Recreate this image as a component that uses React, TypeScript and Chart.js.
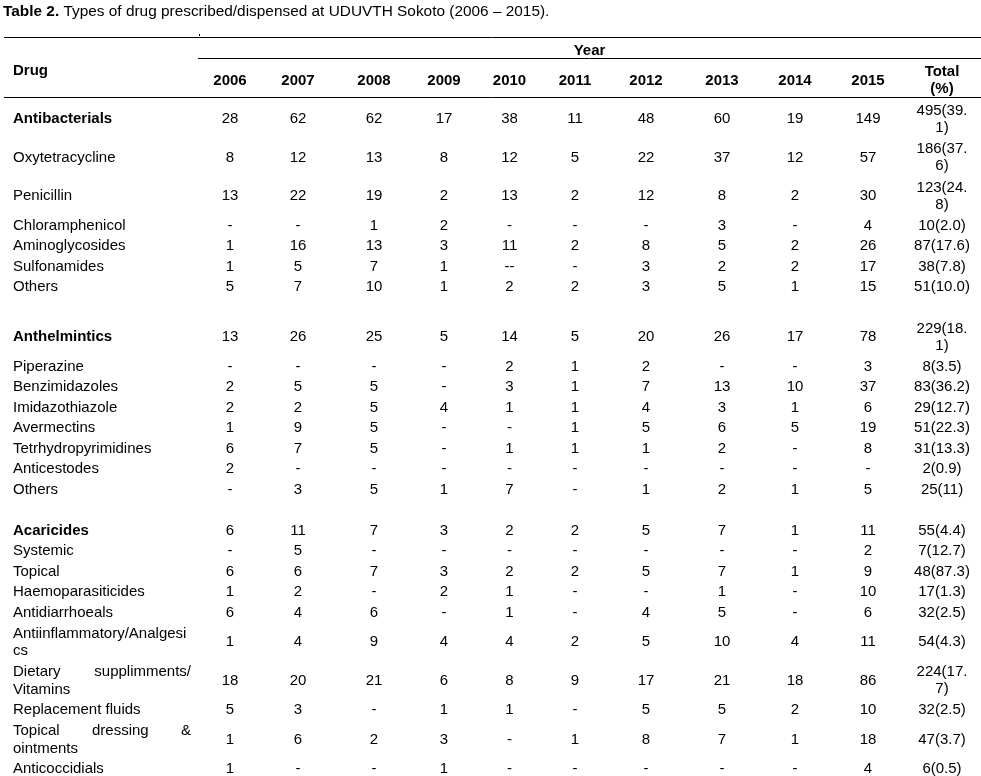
import React, { useEffect, useRef } from 'react';
import { Chart, registerables } from 'chart.js';

Chart.register(...registerables);

// ---------------- DATA ----------------
const titleBold = 'Table 2.';
const titleText = ' Types of drug prescribed/dispensed at UDUVTH Sokoto (2006 – 2015).';
const drugHeader = 'Drug';
const yearHeader = 'Year';
const totalHeader = ['Total', '(%)'];

const years = ['2006', '2007', '2008', '2009', '2010', '2011', '2012', '2013', '2014', '2015'];

const drugs = [
  'Antibacterials', 'Oxytetracycline', 'Penicillin', 'Chloramphenicol', 'Aminoglycosides', 'Sulfonamides', 'Others',
  'Anthelmintics', 'Piperazine', 'Benzimidazoles', 'Imidazothiazole', 'Avermectins', 'Tetrhydropyrimidines', 'Anticestodes', 'Others',
  'Acaricides', 'Systemic', 'Topical', 'Haemoparasiticides', 'Antidiarrhoeals', 'Antiinflammatory/Analgesics',
  'Dietary supplimments/ Vitamins', 'Replacement fluids', 'Topical dressing & ointments', 'Anticoccidials',
];

const groupHeads = ['Antibacterials', 'Anthelmintics', 'Acaricides'];

const y2006 = ['28', '8', '13', '-', '1', '1', '5', '13', '-', '2', '2', '1', '6', '2', '-', '6', '-', '6', '1', '6', '1', '18', '5', '1', '1'];
const y2007 = ['62', '12', '22', '-', '16', '5', '7', '26', '-', '5', '2', '9', '7', '-', '3', '11', '5', '6', '2', '4', '4', '20', '3', '6', '-'];
const y2008 = ['62', '13', '19', '1', '13', '7', '10', '25', '-', '5', '5', '5', '5', '-', '5', '7', '-', '7', '-', '6', '9', '21', '-', '2', '-'];
const y2009 = ['17', '8', '2', '2', '3', '1', '1', '5', '-', '-', '4', '-', '-', '-', '1', '3', '-', '3', '2', '-', '4', '6', '1', '3', '1'];
const y2010 = ['38', '12', '13', '-', '11', '--', '2', '14', '2', '3', '1', '-', '1', '-', '7', '2', '-', '2', '1', '1', '4', '8', '1', '-', '-'];
const y2011 = ['11', '5', '2', '-', '2', '-', '2', '5', '1', '1', '1', '1', '1', '-', '-', '2', '-', '2', '-', '-', '2', '9', '-', '1', '-'];
const y2012 = ['48', '22', '12', '-', '8', '3', '3', '20', '2', '7', '4', '5', '1', '-', '1', '5', '-', '5', '-', '4', '5', '17', '5', '8', '-'];
const y2013 = ['60', '37', '8', '3', '5', '2', '5', '26', '-', '13', '3', '6', '2', '-', '2', '7', '-', '7', '1', '5', '10', '21', '5', '7', '-'];
const y2014 = ['19', '12', '2', '-', '2', '2', '1', '17', '-', '10', '1', '5', '-', '-', '1', '1', '-', '1', '-', '-', '4', '18', '2', '1', '-'];
const y2015 = ['149', '57', '30', '4', '26', '17', '15', '78', '3', '37', '6', '19', '8', '-', '5', '11', '2', '9', '10', '6', '11', '86', '10', '18', '4'];
const totals = [
  '495(39.1)', '186(37.6)', '123(24.8)', '10(2.0)', '87(17.6)', '38(7.8)', '51(10.0)',
  '229(18.1)', '8(3.5)', '83(36.2)', '29(12.7)', '51(22.3)', '31(13.3)', '2(0.9)', '25(11)',
  '55(4.4)', '7(12.7)', '48(87.3)', '17(1.3)', '32(2.5)', '54(4.3)', '224(17.7)', '32(2.5)', '47(3.7)', '6(0.5)',
];

const yearColumns = [y2006, y2007, y2008, y2009, y2010, y2011, y2012, y2013, y2014, y2015];

// ---------------- LAYOUT / STYLE ----------------
const FONT = '"Liberation Sans", Arial, Helvetica, sans-serif';
const FS = 15;
const TITLE_FS = 15.4;
const INK = '#000000';
const PAGE_W = 981;
// column widths: drug column, 10 year columns, total column
const colWidths = [198, 64, 72, 80, 60, 71, 60, 82, 70, 76, 70, 78];
const LABEL_INDENT = 13;
const LABEL_MAX_W = 178;
const TOTAL_MAX_W = 60;
const ROW_PX = 20.5;
const EXTRA_LINE_PX = 18;
const LINE_GAP = 17.5;
const BODY_TOP = 98.75;
const BASE = 0.36 * FS;

function font(bold: boolean, size: number = FS) {
  return `${bold ? 'bold ' : ''}${size}px ${FONT}`;
}

type Line = { text: string; justify: boolean };

function wrapLabel(ctx: CanvasRenderingContext2D, text: string, maxW: number): Line[] {
  const words = text.split(' ');
  const out: string[] = [];
  let cur = '';
  for (const w of words) {
    const test = cur ? cur + ' ' + w : w;
    if (ctx.measureText(test).width <= maxW) {
      cur = test;
    } else if (cur) {
      out.push(cur);
      cur = w;
    } else {
      cur = w;
    }
    while (ctx.measureText(cur).width > maxW && cur.length > 1) {
      let k = cur.length - 1;
      while (k > 1 && ctx.measureText(cur.slice(0, k)).width > maxW) k--;
      out.push(cur.slice(0, k));
      cur = cur.slice(k);
    }
  }
  if (cur) out.push(cur);
  return out.map((t, i) => ({ text: t, justify: i < out.length - 1 && t.includes(' ') }));
}

function wrapTotal(ctx: CanvasRenderingContext2D, text: string): Line[] {
  if (ctx.measureText(text).width <= TOTAL_MAX_W) return [{ text, justify: false }];
  const k = text.lastIndexOf('.');
  if (k < 0) return [{ text, justify: false }];
  return [
    { text: text.slice(0, k + 1), justify: false },
    { text: text.slice(k + 1), justify: false },
  ];
}

function colCenter(c: number) {
  let s = 0;
  for (let i = 0; i < c; i++) s += colWidths[i];
  return s + colWidths[c] / 2;
}

function drawJustified(ctx: CanvasRenderingContext2D, text: string, x: number, y: number, width: number) {
  const words = text.split(' ');
  const total = words.reduce((a, w) => a + ctx.measureText(w).width, 0);
  const gap = (width - total) / (words.length - 1);
  let cx = x;
  ctx.textAlign = 'left';
  for (const w of words) {
    ctx.fillText(w, cx, y);
    cx += ctx.measureText(w).width + gap;
  }
}

const tablePlugin = {
  id: 'tableText',
  afterDraw(chart: any) {
    const ctx: CanvasRenderingContext2D = chart.ctx;
    const xs = chart.scales.x;
    const area = chart.chartArea;
    const left = 4;
    const right = area.right;
    ctx.save();
    ctx.fillStyle = INK;
    ctx.strokeStyle = INK;
    ctx.textBaseline = 'alphabetic';

    // title
    ctx.textAlign = 'left';
    ctx.font = font(true, TITLE_FS);
    ctx.fillText(titleBold, 3, 11 + BASE);
    const bw = ctx.measureText(titleBold).width;
    ctx.font = font(false, TITLE_FS);
    ctx.fillText(titleText, 3 + bw, 11 + BASE);

    // rules
    const yearLeft = xs.getPixelForValue(colWidths[0]);
    ctx.lineWidth = 1;
    ctx.beginPath();
    ctx.moveTo(left, 37.5); ctx.lineTo(right, 37.5);
    ctx.moveTo(yearLeft, 58.5); ctx.lineTo(right, 58.5);
    ctx.moveTo(left, 97.5); ctx.lineTo(right, 97.5);
    ctx.moveTo(yearLeft + 1.5, 34); ctx.lineTo(yearLeft + 1.5, 36);
    ctx.stroke();

    // headers
    ctx.font = font(true);
    ctx.textAlign = 'center';
    ctx.fillText(yearHeader, (yearLeft + right) / 2, 50 + BASE);
    ctx.textAlign = 'left';
    ctx.fillText(drugHeader, LABEL_INDENT, 70 + BASE);
    ctx.textAlign = 'center';
    years.forEach((yr, i) => {
      ctx.fillText(yr, xs.getPixelForValue(colCenter(i + 1)), 80 + BASE);
    });
    const tx = xs.getPixelForValue(colCenter(colWidths.length - 1));
    ctx.fillText(totalHeader[0], tx, 71 + BASE);
    ctx.fillText(totalHeader[1], tx, 88 + BASE);

    // cells
    chart.data.datasets.forEach((ds: any, d: number) => {
      const meta = chart.getDatasetMeta(d);
      meta.data.forEach((pt: any, i: number) => {
        const lines: Line[] = ds.cellLines[i];
        const bold = ds.isLabel && groupHeads.includes(drugs[i]);
        ctx.font = font(bold);
        const n = lines.length;
        lines.forEach((ln, k) => {
          const ly = pt.y + (k - (n - 1) / 2) * (ds.isLabel ? LINE_GAP : 17) + BASE;
          if (ds.isLabel) {
            if (ln.justify) {
              drawJustified(ctx, ln.text, pt.x, ly, LABEL_MAX_W);
            } else {
              ctx.textAlign = 'left';
              ctx.fillText(ln.text, pt.x, ly);
            }
          } else {
            ctx.textAlign = 'center';
            ctx.fillText(ln.text, pt.x, ly);
          }
        });
      });
    });
    ctx.restore();
  },
};

export default function App() {
  const canvasRef = useRef<HTMLCanvasElement | null>(null);
  const boxRef = useRef<HTMLDivElement | null>(null);

  useEffect(() => {
    document.body.style.margin = '0';
    document.documentElement.style.overflow = 'hidden';
    document.body.style.overflow = 'hidden';

    const m = document.createElement('canvas').getContext('2d') as CanvasRenderingContext2D;
    const labelLines = drugs.map((d) => {
      m.font = font(groupHeads.includes(d));
      return wrapLabel(m, d, LABEL_MAX_W);
    });
    m.font = font(false);
    const totalLines = totals.map((t) => wrapTotal(m, t));

    // row centers in row units
    const extra = EXTRA_LINE_PX / ROW_PX;
    let cursor = 0;
    const centers: number[] = [];
    drugs.forEach((d, i) => {
      if (i > 0 && groupHeads.includes(d)) cursor += 1;
      const n = Math.max(labelLines[i].length, totalLines[i].length);
      const h = 1 + (n - 1) * extra;
      centers.push(cursor + h / 2);
      cursor += h;
    });
    const totalUnits = cursor;
    const bodyPx = totalUnits * ROW_PX;
    const H = Math.ceil(BODY_TOP + bodyPx);

    const canvas = canvasRef.current!;
    canvas.width = PAGE_W;
    canvas.height = H;
    canvas.style.width = PAGE_W + 'px';
    canvas.style.height = H + 'px';
    if (boxRef.current) boxRef.current.style.height = H + 'px';

    const sumW = colWidths.reduce((a, b) => a + b, 0);

    const datasets: any[] = [];
    datasets.push({
      label: drugHeader,
      isLabel: true,
      cellLines: labelLines,
      data: drugs.map((_, i) => ({ x: LABEL_INDENT, y: centers[i] })),
      pointRadius: 0,
      showLine: false,
    });
    yearColumns.forEach((col, c) => {
      datasets.push({
        label: years[c],
        isLabel: false,
        cellLines: col.map((v) => [{ text: v, justify: false }]),
        data: col.map((_, i) => ({ x: colCenter(c + 1), y: centers[i] })),
        pointRadius: 0,
        showLine: false,
      });
    });
    datasets.push({
      label: 'Total',
      isLabel: false,
      cellLines: totalLines,
      data: totals.map((_, i) => ({ x: colCenter(colWidths.length - 1), y: centers[i] })),
      pointRadius: 0,
      showLine: false,
    });

    const chart = new Chart(canvas, {
      type: 'scatter',
      data: { datasets },
      options: {
        responsive: false,
        animation: false,
        devicePixelRatio: 1,
        events: [],
        layout: { padding: { top: BODY_TOP, bottom: H - BODY_TOP - bodyPx, left: 0, right: 0 } },
        plugins: { legend: { display: false }, tooltip: { enabled: false }, title: { display: false } },
        scales: {
          x: { type: 'linear', display: false, min: 0, max: sumW },
          y: { type: 'linear', display: false, reverse: true, min: 0, max: totalUnits },
        },
      },
      plugins: [tablePlugin],
    } as any);

    return () => chart.destroy();
  }, []);

  return (
    <div ref={boxRef} style={{ width: PAGE_W, height: 776, position: 'relative', background: '#fff' }}>
      <canvas ref={canvasRef} style={{ display: 'block' }} />
    </div>
  );
}
